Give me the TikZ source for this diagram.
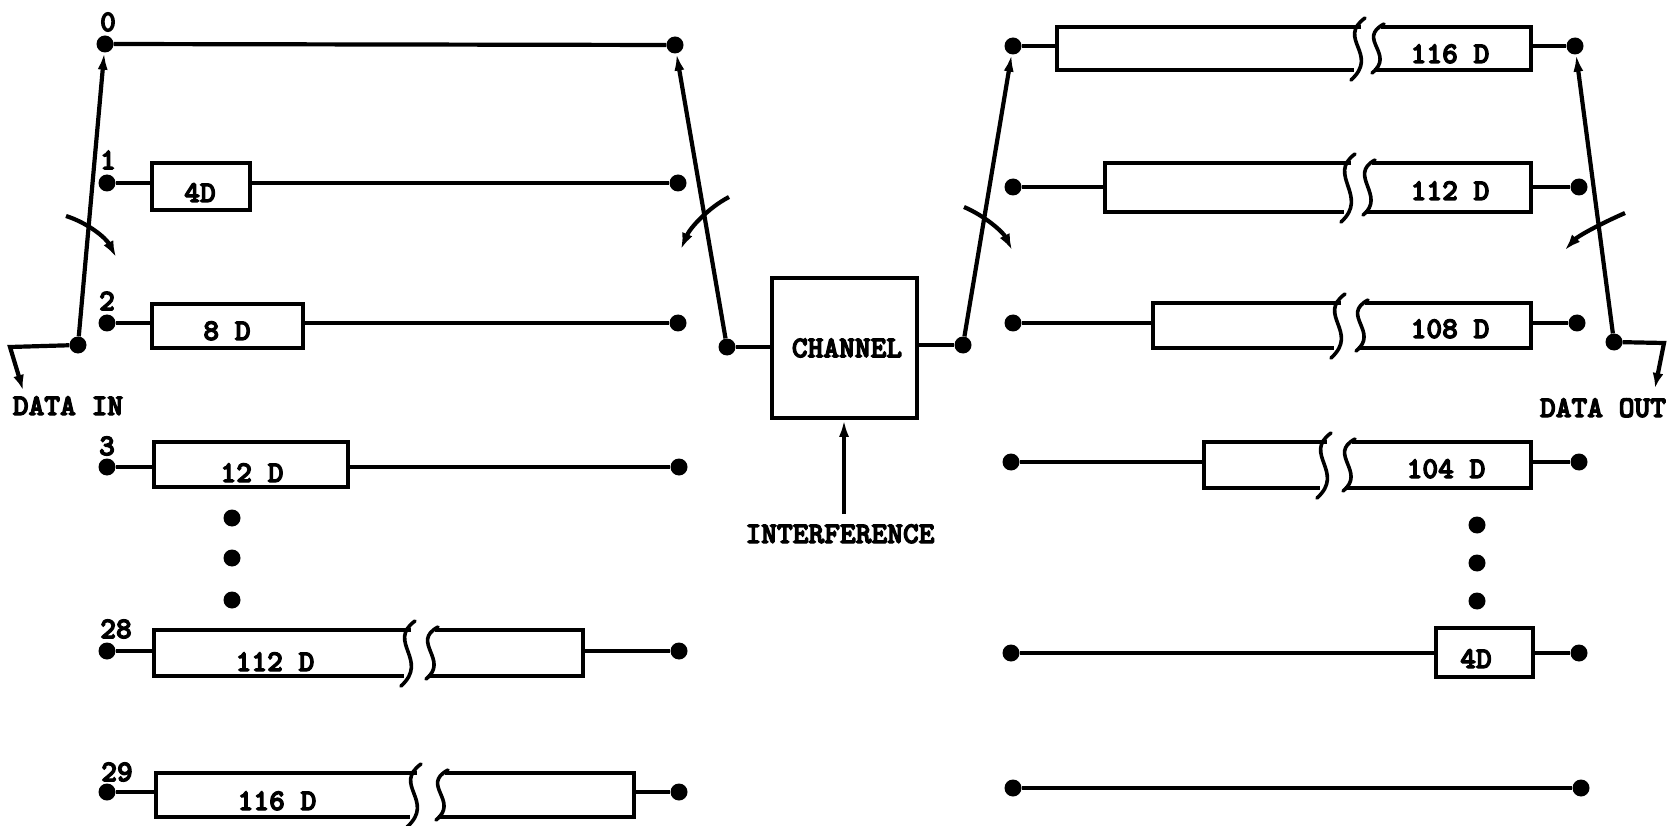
\documentclass[tikz,border=0pt]{standalone}
\usepackage{fontspec}
\usetikzlibrary{arrows.meta,calc}
\newfontfamily\twfont{lmmonolt10-bold.otf}[FakeBold=4]
\tikzset{
  wire/.style={line width=4.2pt,line join=miter},
  pin/.style={circle,fill=black,draw=none,inner sep=0pt,minimum size=17pt},
  boxline/.style={line width=3.6pt,line join=miter},
  tw/.style={font=\fontsize{30}{32}\selectfont\twfont,inner sep=0pt},
  big/.style={font=\fontsize{30}{32}\selectfont\twfont,inner sep=0pt},
  armtip/.style={-{Latex[length=17pt,width=10pt]}},
  outtip/.style={-{Latex[length=15pt,width=11pt]}},
  turn/.style={line width=4.2pt,-{Latex[length=16pt,width=11pt]}},
}
% delay line drawn whole: name, left, top, right, bottom, wire height
\newcommand\plainbox[6]{%
  \node[draw,boxline,minimum width={#4-#2},minimum height={#5-#3},inner sep=0pt,outer sep=0pt]
     (#1) at ({(#2+#4)/2},{(#3+#5)/2}) {};
  \coordinate (#1w) at ({#2},{#6});
  \coordinate (#1e) at ({#4},{#6});
}
% delay line drawn with a break: name, left, top, right, bottom, break left, break right, wire height
\newcommand\brkbox[8]{%
  \draw[boxline] ({#6+3},{#3}) -- ({#2},{#3}) -- ({#2},{#5}) -- ({#6-4},{#5});
  \draw[boxline] ({#7+5},{#3}) -- ({#4},{#3}) -- ({#4},{#5}) -- ({#7-2},{#5});
  \draw[line width=3.6pt,line cap=round] ({#6+7},{#3-9}) .. controls ({#6-22},{#3+12}) and ({#6+22},{#5-16}) .. ({#6-7},{#5+10});
  \draw[line width=3.6pt,line cap=round] ({#7+8},{#3-3}) .. controls ({#7-20},{#3+12}) and ({#7+20},{#5-16}) .. ({#7-4},{#5+3});
  \coordinate (#1w) at ({#2},{#8});
  \coordinate (#1e) at ({#4},{#8});
}
\begin{document}
\begin{tikzpicture}[x=1pt,y=-1pt]
\useasboundingbox (0,0) rectangle (1668,826);

% ---------- transmitter bank ----------
\node[pin] (a0) at (105,44) {};
\node[pin] (a1) at (107,183) {};
\node[pin] (a2) at (107,323) {};
\node[pin] (a3) at (107,467) {};
\node[pin] (a28) at (107,651) {};
\node[pin] (a29) at (107,792) {};
\node[pin] (b0) at (675,45) {};
\node[pin] (b1) at (678,183) {};
\node[pin] (b2) at (678,323) {};
\node[pin] (b3) at (679,467) {};
\node[pin] (b28) at (679,651) {};
\node[pin] (b29) at (679,792) {};

\node[tw] (n0) at (108,22) {0};
\node[tw] (n1) at (108,160) {1};
\node[tw] (n2) at (107,301) {2};
\node[tw] (n3) at (107,446) {3};
\node[tw] (n28) at (116,629) {28};
\node[tw] (n29) at (117,772) {29};

\draw[wire] (a0) -- (b0);

\plainbox{d1}{152}{163}{250}{210}{183}
\draw[wire] (a1) -- (d1w); \draw[wire] (d1e) -- (b1);
\node[tw,anchor=base] (t1) at (200,202) {4D};

\plainbox{d2}{152}{304}{303}{348}{323}
\draw[wire] (a2) -- (d2w); \draw[wire] (d2e) -- (b2);
\node[tw,anchor=base] (t2) at (227,340) {8 D};

\plainbox{d3}{154}{442}{348}{487}{467}
\draw[wire] (a3) -- (d3w); \draw[wire] (d3e) -- (b3);
\node[tw,anchor=base] (t3) at (252,482) {12 D};

\brkbox{d28}{154}{630}{583}{676}{408}{430}{651}
\draw[wire] (a28) -- (d28w); \draw[wire] (d28e) -- (b28);
\node[tw,anchor=base] (t28) at (275,671) {112 D};

\brkbox{d29}{156}{773}{634}{817}{414}{440}{792}
\draw[wire] (a29) -- (d29w); \draw[wire] (d29e) -- (b29);
\node[tw,anchor=base] (t29) at (277,810) {116 D};

\node[pin] (va) at (232,518) {};
\node[pin] (vb) at (232,558) {};
\node[pin] (vc) at (232,600) {};

% input commutator
\node[pin] (p1) at (78,345) {};
\draw[wire,armtip] (p1) -- (a0);
\coordinate (inbend) at (10,347);
\coordinate (intip) at (23,390);
\draw[wire,outtip] (p1) -- (inbend) -- (intip);
\node[tw,anchor=base] (din) at (68,415) {DATA IN};
\coordinate (r1a) at (66,216);
\coordinate (r1b) at (116,257);
\draw[turn] (r1a) .. controls (88,223) and (106,238) .. (r1b);

% ---------- channel ----------
\node[draw,boxline,minimum width=145,minimum height=140,inner sep=0pt] (ch) at (844.5,348) {};
\node[big] (chl) at (847,348) {CHANNEL};
\node[pin] (p2) at (727,347) {};
\node[pin] (p3) at (963,345) {};
\draw[wire] (p2) -- (p2 -| ch.west);
\draw[wire] (ch.east |- p3) -- (p3);
\draw[wire,armtip] (p2) -- (b0);
\coordinate (r2a) at (729,197);
\coordinate (r2b) at (681,249);
\draw[turn] (r2a) .. controls (708,208) and (690,228) .. (r2b);

\node[big,anchor=base] (intf) at (840,543) {INTERFERENCE};
\coordinate (intftop) at (844,514);
\draw[wire,armtip] (intftop) -- (intftop |- ch.south);

% ---------- receiver bank ----------
\node[pin] (c0) at (1013,46) {};
\node[pin] (c1) at (1013,187) {};
\node[pin] (c2) at (1013,323) {};
\node[pin] (c3) at (1011,462) {};
\node[pin] (c28) at (1011,653) {};
\node[pin] (c29) at (1013,788) {};
\node[pin] (e0) at (1575,46) {};
\node[pin] (e1) at (1579,187) {};
\node[pin] (e2) at (1577,323) {};
\node[pin] (e3) at (1579,462) {};
\node[pin] (e28) at (1579,653) {};
\node[pin] (e29) at (1581,788) {};

\draw[wire,armtip] (p3) -- (c0);
\coordinate (r3a) at (964,207);
\coordinate (r3b) at (1012,250);
\draw[turn] (r3a) .. controls (985,216) and (1003,232) .. (r3b);

\brkbox{f0}{1057}{27}{1531}{70}{1358}{1376}{46}
\draw[wire] (c0) -- (f0w); \draw[wire] (f0e) -- (e0);
\node[tw,anchor=base] (u0) at (1450,63) {116 D};

\brkbox{f1}{1105}{163}{1531}{212}{1348}{1367}{187}
\draw[wire] (c1) -- (f1w); \draw[wire] (f1e) -- (e1);
\node[tw,anchor=base] (u1) at (1450,200) {112 D};

\brkbox{f2}{1153}{303}{1531}{348}{1338}{1360}{323}
\draw[wire] (c2) -- (f2w); \draw[wire] (f2e) -- (e2);
\node[tw,anchor=base] (u2) at (1450,338) {108 D};

\brkbox{f3}{1204}{442}{1531}{488}{1324}{1347}{462}
\draw[wire] (c3) -- (f3w); \draw[wire] (f3e) -- (e3);
\node[tw,anchor=base] (u3) at (1446,478) {104 D};

\plainbox{f28}{1436}{628}{1533}{677}{653}
\draw[wire] (c28) -- (f28w); \draw[wire] (f28e) -- (e28);
\node[tw,anchor=base] (u28) at (1476,668) {4D};

\draw[wire] (c29) -- (e29);

\node[pin] (vd) at (1477,525) {};
\node[pin] (ve) at (1477,563) {};
\node[pin] (vf) at (1477,601) {};

% output commutator
\node[pin] (p4) at (1614,342) {};
\draw[wire,armtip] (p4) -- (e0);
\coordinate (outbend) at (1664,343);
\coordinate (outend) at (1655,388);
\draw[wire,outtip] (p4) -- (outbend) -- (outend);
\node[tw,anchor=base] (dout) at (1603,417) {DATA OUT};
\coordinate (r4a) at (1625,213);
\coordinate (r4b) at (1565,250);
\draw[turn] (r4a) .. controls (1600,224) and (1578,236) .. (r4b);
\end{tikzpicture}
\end{document}
